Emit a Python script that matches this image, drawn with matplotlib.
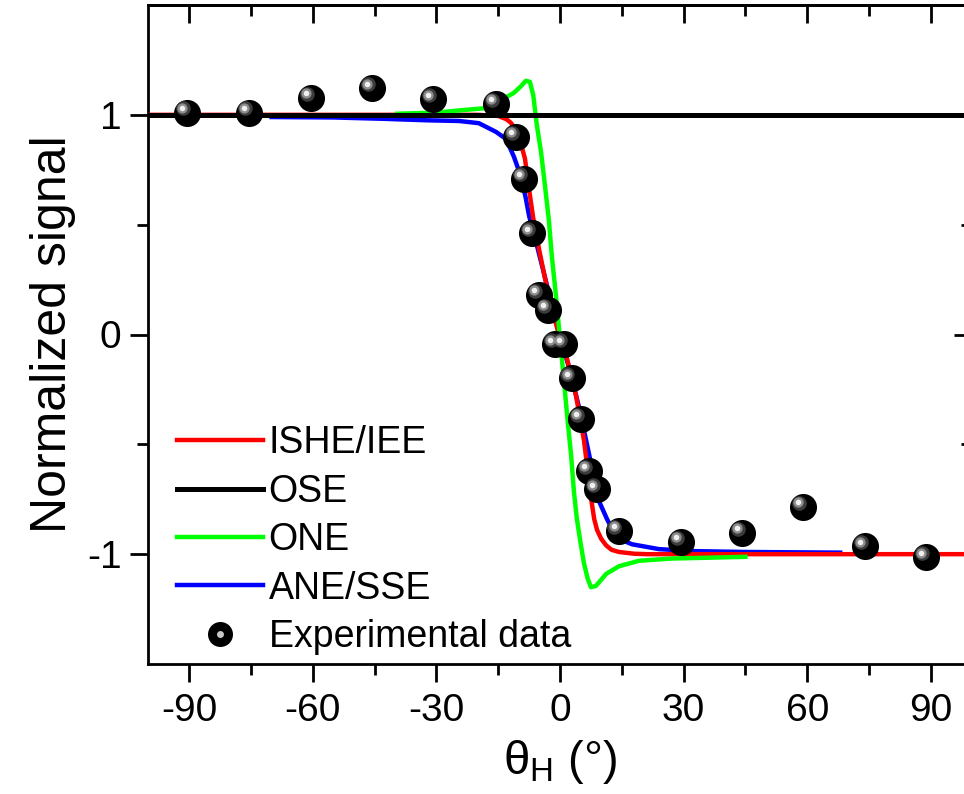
import numpy as np
import matplotlib
matplotlib.use("Agg")
from matplotlib import pyplot as plt
from matplotlib import transforms
from matplotlib.lines import Line2D
from matplotlib.legend_handler import HandlerTuple

plt.rcParams['font.family'] = ['Liberation Sans', 'DejaVu Sans']
plt.rcParams['axes.unicode_minus'] = False
plt.rcParams['mathtext.fontset'] = 'custom'
plt.rcParams['mathtext.rm'] = 'Liberation Sans'

# experimental points
exp_x = [-90.5, -75.5, -60.4, -45.6, -30.8, -15.6, -10.7, -8.7, -6.8, -5.1, -2.9, -1.2, 1.0,
         2.8, 5.1, 7.0, 9.0, 14.2, 29.3, 44.2, 59.0, 74.0, 88.8]
exp_y = [1.01, 1.01, 1.075, 1.12, 1.07, 1.05, 0.90, 0.71, 0.46, 0.18, 0.11, -0.045, -0.045,
         -0.20, -0.385, -0.62, -0.705, -0.895, -0.945, -0.905, -0.785, -0.965, -1.015]

# model curves
ishe_x = [-100, -30, -20, -15, -13, -12, -11, -10, -9.5, -8.5, -7.5, -6.5, -5.0, -2.7, 0,
          1.7, 3.9, 5.8, 6.6, 7.5, 8.3, 9.0, 10.0, 11.2, 12.5, 14.3, 18, 21, 100]
ishe_y = [1, 1, 1.0, 0.995, 0.98, 0.965, 0.94, 0.905, 0.87, 0.80, 0.66, 0.53, 0.38, 0.17, -0.02,
          -0.11, -0.28, -0.48, -0.60, -0.74, -0.84, -0.89, -0.93, -0.96, -0.98, -0.99, -0.998, -1.0, -1.0]

ose_x = [-100, 100]
ose_y = [1, 1]

one_x = [-39.5, -30, -24.5, -21.4, -18.4, -15.5, -13.1, -11.2, -9.5, -8.3, -7.3, -6.5, -5.6,
         -4.6, -3.6, -2.7, -2.0, -1.0, 0, 1.0, 2.0, 2.7, 3.4, 4.1, 5.0, 5.8, 6.7, 7.5, 8.7,
         11.2, 14.3, 19.2, 27, 38.6, 45]
one_y = [1.005, 1.01, 1.02, 1.025, 1.03, 1.05, 1.08, 1.10, 1.13, 1.155, 1.15, 1.09, 0.95,
         0.83, 0.67, 0.52, 0.36, 0.18, -0.02, -0.22, -0.42, -0.55, -0.72, -0.84, -0.95, -1.04, -1.11, -1.15, -1.145,
         -1.09, -1.055, -1.03, -1.02, -1.015, -1.012]

ane_x = [-70, -55, -43, -32, -24.5, -19.7, -15.5, -13.1, -11.2, -9.5, -8.3, -7.5, -5.8, -2.7,
         0, 2.5, 4.6, 7.0, 8.3, 9.5, 11.4, 13.6, 15.5, 17.5, 24, 32, 45, 68]
ane_y = [0.99, 0.988, 0.982, 0.975, 0.972, 0.962, 0.922, 0.89, 0.81, 0.72, 0.62, 0.54, 0.42, 0.19,
         -0.01, -0.17, -0.33, -0.54, -0.66, -0.76, -0.84, -0.92, -0.94, -0.955, -0.977, -0.986, -0.99, -0.993]

fig = plt.figure(figsize=(9.64, 7.94), dpi=100)
ax = fig.add_axes([148/964, 130/794, 824/964, 659/794])

l_ane, = ax.plot(ane_x, ane_y, color='#0000ff', lw=3.2, label='ANE/SSE', zorder=2)
l_ishe, = ax.plot(ishe_x, ishe_y, color='#ff0000', lw=3.2, label='ISHE/IEE', zorder=3)
l_one, = ax.plot(one_x, one_y, color='#00ff00', lw=3.2, label='ONE', zorder=4)
l_ose, = ax.plot(ose_x, ose_y, color='black', lw=3.6, label='OSE', zorder=5)

# "ball" markers: black disc plus an offset highlight
hl = transforms.offset_copy(ax.transData, fig=fig, x=-3, y=3, units='points')
hl2 = transforms.offset_copy(ax.transData, fig=fig, x=-3.5, y=3.5, units='points')
ax.scatter(exp_x, exp_y, s=380, color='black', zorder=6, linewidths=0)
ax.scatter(exp_x, exp_y, s=110, color='#3c3c3c', zorder=7, linewidths=0, transform=hl)
ax.scatter(exp_x, exp_y, s=55, color='#8c8c8c', zorder=8, linewidths=0, transform=hl2)
ax.scatter(exp_x, exp_y, s=16, color='#f0f0f0', zorder=9, linewidths=0, transform=hl2)

ax.set_xlim(-100, 100)
ax.set_ylim(-1.5, 1.5)
ax.set_xticks([-90, -60, -30, 0, 30, 60, 90])
ax.set_xticks([-75, -45, -15, 15, 45, 75], minor=True)
ax.set_yticks([-1, 0, 1])
ax.set_yticks([-0.5, 0.5], minor=True)
ax.tick_params(which='major', direction='out', length=13, width=2, labelsize=28, pad=6)
ax.tick_params(which='minor', direction='out', length=8, width=2)
ax.tick_params(axis='x', which='major', pad=8)
for sp in ax.spines.values():
    sp.set_linewidth(2)

top = ax.secondary_xaxis('top')
top.set_xticks([-90, -60, -30, 0, 30, 60, 90])
top.set_xticks([-75, -45, -15, 15, 45, 75], minor=True)
top.tick_params(which='major', direction='in', length=13, width=2, labeltop=False)
top.tick_params(which='minor', direction='in', length=8, width=2)
top.spines['top'].set_linewidth(2)
right = ax.secondary_yaxis('right')
right.set_yticks([-1, 0, 1])
right.set_yticks([-0.5, 0.5], minor=True)
right.tick_params(which='major', direction='in', length=13, width=2, labelright=False)
right.tick_params(which='minor', direction='in', length=8, width=2)
right.spines['right'].set_linewidth(2)

ax.set_ylabel('Normalized signal', fontsize=36, labelpad=8)
ax.set_xlabel(r'θ$_\mathrm{H}$ (°)', fontsize=34, labelpad=6)

# legend handle for the balls
h_ball = Line2D([], [], ls='none', marker='o', ms=18, color='black', mew=0)
h_hi = Line2D([], [], ls='none', marker='o', ms=5, color='#c8c8c8', mew=0)
leg = ax.legend([l_ishe, l_ose, l_one, l_ane, (h_ball, h_hi)],
                ['ISHE/IEE', 'OSE', 'ONE', 'ANE/SSE', 'Experimental data'],
                handler_map={tuple: HandlerTuple(ndivide=1)},
                loc='upper left', bbox_to_anchor=(0.035, 0.362), frameon=False,
                fontsize=27, handlelength=2.3, handletextpad=0.15, labelspacing=0.33,
                borderpad=0, borderaxespad=0)

fig.savefig('out.png', dpi=100)
